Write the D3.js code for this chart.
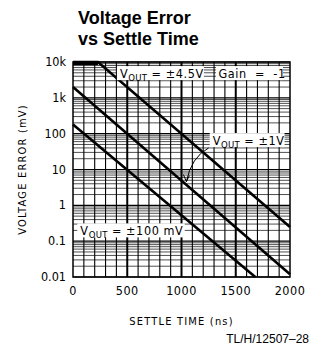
<!DOCTYPE html>
<html>
<head>
<meta charset="utf-8">
<script src="https://cdn.jsdelivr.net/npm/d3@7"></script>
<style>
  body { margin: 0; background: #fff; }
  svg { display: block; }
  .narrow { font-family: "Liberation Sans Narrow", "DejaVu Sans Condensed", sans-serif; }
</style>
</head>
<body>
<svg id="chart" width="319" height="352"></svg>
<script>
// data (settle time in ns, error in mV)
const seriesNames = ["±4.5V", "±1V", "±100 mV"]
const time45 = [0, 230, 2000]
const err45 = [10000, 10000, 0.25]
const time1 = [0, 2000]
const err1 = [2000, 0.012]
const time100 = [0, 1680]
const err100 = [180, 0.01]

const xTicks = [0, 500, 1000, 1500, 2000]
const yTicks = [10000, 1000, 100, 10, 1, 0.1, 0.01]
const yTickLabels = ["10k", "1k", "100", "10", "1", "0.1", "0.01"]

const plotL = 73, plotR = 290, plotT = 62, plotB = 277

const svg = d3.select("#chart")

const x = d3.scaleLinear().domain([0, 2000]).range([plotL, plotR])
const y = d3.scaleLog().domain([0.01, 10000]).range([plotB, plotT])

// title
svg.append("text")
  .attr("x", 78).attr("y", 24)
  .attr("font-family", "Liberation Sans, Arial, sans-serif")
  .attr("font-weight", "bold").attr("font-size", 18)
  .text("Voltage Error")
svg.append("text")
  .attr("x", 78).attr("y", 45)
  .attr("font-family", "Liberation Sans, Arial, sans-serif")
  .attr("font-weight", "bold").attr("font-size", 18)
  .text("vs Settle Time")

const grid = svg.append("g")

// horizontal log grid, 2..9 in each decade
let minors = []
for (let e = -2; e < 4; e++) {
  for (let m = 2; m <= 9; m++) minors.push(m * Math.pow(10, e))
}
grid.selectAll(".hmin")
  .data(minors)
  .enter().append("line")
  .attr("x1", plotL).attr("x2", plotR)
  .attr("y1", d => y(d)).attr("y2", d => y(d))
  .attr("stroke", "#222").attr("stroke-width", 0.8)

grid.selectAll(".hmaj")
  .data(yTicks)
  .enter().append("line")
  .attr("x1", plotL).attr("x2", plotR)
  .attr("y1", d => y(d)).attr("y2", d => y(d))
  .attr("stroke", "#000").attr("stroke-width", 1.2)

// vertical grid every 100 ns
grid.selectAll(".v")
  .data(d3.range(100, 2000, 100))
  .enter().append("line")
  .attr("x1", d => x(d)).attr("x2", d => x(d))
  .attr("y1", plotT).attr("y2", plotB)
  .attr("stroke", "#000")
  .attr("stroke-width", d => d % 500 === 0 ? 2 : 1.1)

// frame
svg.append("rect")
  .attr("x", plotL).attr("y", plotT)
  .attr("width", plotR - plotL).attr("height", plotB - plotT)
  .attr("fill", "none").attr("stroke", "#000").attr("stroke-width", 1.5)

// curves
const line = d3.line().x(d => x(d[0])).y(d => y(d[1]))
const curves = [
  d3.zip(time45, err45),
  d3.zip(time1, err1),
  d3.zip(time100, err100)
]
svg.append("g").selectAll("path")
  .data(curves)
  .enter().append("path")
  .attr("d", line)
  .attr("fill", "none")
  .attr("stroke", "#000")
  .attr("stroke-width", 2.6)
// thick flat part at the top
svg.append("line")
  .attr("x1", x(0)).attr("x2", x(time45[1]))
  .attr("y1", y(10000) + 1.5).attr("y2", y(10000) + 1.5)
  .attr("stroke", "#000").attr("stroke-width", 3)

// labels with white boxes
function vLabel(x0, x1, yv, value) {
  const cy = y(yv)
  svg.append("rect")
    .attr("x", x(x0)).attr("y", cy - 7)
    .attr("width", x(x1) - x(x0)).attr("height", 14)
    .attr("fill", "#fff")
  const t = svg.append("text")
    .attr("class", "narrow")
    .attr("x", x(x0) + 3).attr("y", cy + 4.5)
    .attr("font-size", 12.5)
    .attr("letter-spacing", 0.6)
  t.append("tspan").text("V")
  t.append("tspan").attr("dy", 3).attr("font-size", 9.5).attr("letter-spacing", 0.3).text("OUT")
  t.append("tspan").attr("dy", -3).attr("xml:space", "preserve").text(" = " + value)
}
vLabel(405, 1207, 4900, seriesNames[0])
vLabel(1260, 1950, 66, seriesNames[1])
vLabel(40, 1030, 0.2, seriesNames[2])

svg.append("rect")
  .attr("x", x(1318)).attr("y", y(4900) - 7)
  .attr("width", x(1935) - x(1318)).attr("height", 14)
  .attr("fill", "#fff")
svg.append("text")
  .attr("class", "narrow")
  .attr("x", x(1340)).attr("y", y(4900) + 4.5)
  .attr("font-size", 12.5)
  .attr("letter-spacing", 0.6)
  .attr("xml:space", "preserve")
  .text("Gain  =  -1")

// arrow to the ±1V curve
const arrowFrom = [1250, 40], arrowMid = [1090, 22], arrowTo = [1045, 4.6]
const ap = d3.path()
ap.moveTo(x(arrowFrom[0]), y(arrowFrom[1]))
ap.quadraticCurveTo(x(arrowMid[0]), y(arrowMid[1]), x(arrowTo[0]), y(arrowTo[1]))
svg.append("path")
  .attr("d", ap.toString())
  .attr("fill", "none").attr("stroke", "#000").attr("stroke-width", 1)
svg.append("path")
  .attr("d", d3.line()([
    [x(arrowTo[0]) - 3, y(arrowTo[1]) - 7],
    [x(arrowTo[0]), y(arrowTo[1])],
    [x(arrowTo[0]) + 3, y(arrowTo[1]) - 6]
  ]))
  .attr("fill", "none").attr("stroke", "#000").attr("stroke-width", 1)

// tick labels
svg.append("g").selectAll("text")
  .data(yTicks)
  .enter().append("text")
  .attr("class", "narrow")
  .attr("x", 66).attr("y", d => y(d) + 4)
  .attr("text-anchor", "end")
  .attr("font-size", 12.5)
  .text((d, i) => yTickLabels[i])

svg.append("g").selectAll("text")
  .data(xTicks)
  .enter().append("text")
  .attr("class", "narrow")
  .attr("x", d => x(d)).attr("y", 295)
  .attr("text-anchor", "middle")
  .attr("font-size", 12.5)
  .attr("letter-spacing", 0.5)
  .text(d => d)

// axis titles
svg.append("text")
  .attr("class", "narrow")
  .attr("transform", "translate(26," + ((plotT + plotB) / 2) + ") rotate(-90)")
  .attr("text-anchor", "middle")
  .attr("font-size", 11)
  .attr("letter-spacing", 1.2)
  .text("VOLTAGE ERROR (mV)")

svg.append("text")
  .attr("class", "narrow")
  .attr("x", (plotL + plotR) / 2).attr("y", 325)
  .attr("text-anchor", "middle")
  .attr("font-size", 11)
  .attr("letter-spacing", 1.2)
  .text("SETTLE TIME (ns)")

svg.append("text")
  .attr("x", 309).attr("y", 343)
  .attr("text-anchor", "end")
  .attr("font-family", "Liberation Sans, Arial, sans-serif")
  .attr("font-size", 12)
  .text("TL/H/12507–28")
</script>
</body>
</html>
